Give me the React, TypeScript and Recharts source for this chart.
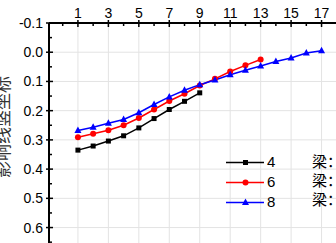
import { LineChart, Line, XAxis, YAxis, CartesianGrid } from 'recharts';

// x positions (top axis)
const positions = [1, 2, 3, 4, 5, 6, 7, 8, 9, 10, 11, 12, 13, 14, 15, 16, 17];
const xTicks = [0, 1, 2, 3, 4, 5, 6, 7, 8, 9, 10, 11, 12, 13, 14, 15, 16, 17, 18];
const xGrid = [1, 3, 5, 7, 9, 11, 13, 15, 17];
const yTicks = [-0.1, -0.05, 0, 0.05, 0.1, 0.15, 0.2, 0.25, 0.3, 0.35, 0.4, 0.45, 0.5, 0.55, 0.6, 0.65];
const yGrid = [0, 0.1, 0.2, 0.3, 0.4, 0.5, 0.6, 0.7, 0.8];

// 影响线竖坐标 for each series
const series4 = [0.335, 0.321, 0.304, 0.286, 0.259, 0.227, 0.196, 0.168, 0.139];
const series6 = [0.291, 0.279, 0.267, 0.25, 0.225, 0.196, 0.167, 0.142, 0.114, 0.091, 0.066, 0.045, 0.025];
const series8 = [0.268, 0.257, 0.243, 0.23, 0.207, 0.179, 0.153, 0.13, 0.111, 0.095, 0.077, 0.062, 0.047, 0.032, 0.02, 0.003, -0.005];

const seriesNames = ['4', '6', '8'];
const seriesColors = ['#000000', '#ff0000', '#0000ff'];

const data = positions.map((x, i) => ({
  x,
  s4: series4[i],
  s6: series6[i],
  s8: series8[i],
}));

const FONT = 'Arial, "Liberation Sans", sans-serif';
const CJK = '"Noto Sans CJK SC", sans-serif';

const isMajor = (v: number) => Math.abs(v * 10 - Math.round(v * 10)) < 1e-6;

const TopTick = (props: any) => {
  const { x, y, payload } = props;
  const v = payload.value;
  const labeled = v % 2 === 1;
  return (
    <g>
      {labeled ? (
        <line x1={x} x2={x} y1={y - 3} y2={y + 4} stroke="#000" strokeWidth={1.5} />
      ) : (
        <line x1={x} x2={x} y1={y} y2={y + 3} stroke="#000" strokeWidth={1.5} />
      )}
      {labeled && (
        <text x={x} y={y - 5} textAnchor="middle" fontSize={14} fontFamily={FONT} fill="#000">
          {v}
        </text>
      )}
    </g>
  );
};

const LeftTick = (props: any) => {
  const { x, y, payload } = props;
  const v = payload.value;
  const major = isMajor(v);
  return (
    <g>
      {major ? (
        <line x1={x - 3} x2={x + 4} y1={y} y2={y} stroke="#000" strokeWidth={1.5} />
      ) : (
        <line x1={x} x2={x + 3} y1={y} y2={y} stroke="#000" strokeWidth={1.5} />
      )}
      {major && (
        <text x={x - 6} y={y + 5} textAnchor="end" fontSize={14} fontFamily={FONT} fill="#000">
          {v.toFixed(1)}
        </text>
      )}
    </g>
  );
};

const SquareDot = (props: any) => {
  const { cx, cy, index } = props;
  if (cx == null || cy == null) return <g key={index} />;
  return <rect key={index} x={cx - 2.5} y={cy - 2.5} width={5} height={5} fill="#000" />;
};

const CircleDot = (props: any) => {
  const { cx, cy, index } = props;
  if (cx == null || cy == null) return <g key={index} />;
  return <circle key={index} cx={cx} cy={cy} r={3} fill="#ff0000" />;
};

const TriangleDot = (props: any) => {
  const { cx, cy, index } = props;
  if (cx == null || cy == null) return <g key={index} />;
  return (
    <polygon
      key={index}
      points={`${cx},${cy - 4} ${cx - 3.5},${cy + 2.5} ${cx + 3.5},${cy + 2.5}`}
      fill="#0000ff"
    />
  );
};

const legendMarker = (i: number) => {
  if (i === 0) return <rect x={17} y={5} width={5} height={5} fill="#000" />;
  if (i === 1) return <circle cx={19.5} cy={7.5} r={3} fill="#ff0000" />;
  return <polygon points="19.5,3.5 16,10 23,10" fill="#0000ff" />;
};

const LegendBox = () => (
  <div style={{ position: 'absolute', left: 226, top: 155, width: 140 }}>
    {seriesNames.map((name, i) => (
      <div key={name} style={{ position: 'relative', height: 20 }}>
        <svg width={40} height={15} style={{ position: 'absolute', left: 0, top: 0 }}>
          <line x1={0} x2={38} y1={7.5} y2={7.5} stroke={seriesColors[i]} strokeWidth={1.5} />
          {legendMarker(i)}
        </svg>
        <span style={{ position: 'absolute', left: 41, top: -2, fontSize: 15, fontFamily: FONT, color: '#000', lineHeight: '18px' }}>
          {name}
        </span>
        <span style={{ position: 'absolute', left: 86, top: -4 - i, fontSize: 15, fontFamily: CJK, color: '#000', lineHeight: '20px' }}>
          梁：
        </span>
      </div>
    ))}
  </div>
);

export default function App() {
  return (
    <div style={{ position: 'fixed', left: 0, top: 0, width: 336, height: 243, overflow: 'hidden', background: '#fff' }}>
      <LineChart
        width={360}
        height={300}
        data={data}
        margin={{ top: 0, right: 8, left: 0, bottom: 14 }}
      >
        <CartesianGrid
          stroke="#e3e3e3"
          strokeWidth={1}
          verticalValues={xGrid}
          horizontalValues={yGrid}
        />
        <XAxis
          dataKey="x"
          type="number"
          orientation="top"
          domain={[-0.9, 19]}
          ticks={xTicks}
          interval={0}
          height={23}
          tickSize={0}
          tickMargin={0}
          tick={<TopTick />}
          axisLine={{ stroke: '#000', strokeWidth: 2 }}
          allowDataOverflow
        />
        <YAxis
          type="number"
          reversed
          domain={[-0.1, 0.8]}
          ticks={yTicks}
          interval={0}
          width={49}
          tickSize={0}
          tickMargin={0}
          tick={<LeftTick />}
          axisLine={{ stroke: '#000', strokeWidth: 2 }}
          allowDataOverflow
        />
        <Line dataKey="s4" name={seriesNames[0]} stroke={seriesColors[0]} strokeWidth={1.5} dot={SquareDot} activeDot={false} isAnimationActive={false} />
        <Line dataKey="s6" name={seriesNames[1]} stroke={seriesColors[1]} strokeWidth={1.5} dot={CircleDot} activeDot={false} isAnimationActive={false} />
        <Line dataKey="s8" name={seriesNames[2]} stroke={seriesColors[2]} strokeWidth={1.5} dot={TriangleDot} activeDot={false} isAnimationActive={false} />
      </LineChart>
      <LegendBox />
      <svg width={30} height={243} style={{ position: 'absolute', left: 0, top: 0 }}>
        <text
          transform="translate(9,127) rotate(-90)"
          textAnchor="middle"
          fontSize={17}
          fontFamily={CJK}
          fill="#333"
        >
          影响线竖坐标
        </text>
      </svg>
    </div>
  );
}
